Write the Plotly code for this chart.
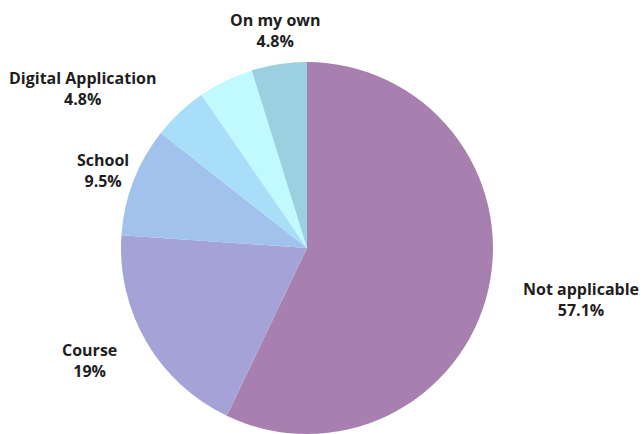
import plotly.graph_objects as go

# Share of respondents by where they learned
categories = ["Not applicable", "Course", "School", "Digital Application", "Other", "On my own"]
shares = [57.1, 19.0, 9.5, 4.8, 4.8, 4.8]
show_label = [True, True, True, True, False, True]

colors = ["#A780B0", "#A4A2D6", "#A0C2EC", "#A8DEF8", "#C0FAFF", "#9AD0E0"]

W, H = 643, 434

# Label anchor points (pixel centres) for each category
label_px = {
    "Not applicable": (581, 299),
    "Course": (89, 360),
    "School": (103, 170),
    "Digital Application": (83, 88),
    "On my own": (275, 31),
}


def fmt_pct(v):
    s = f"{v:.1f}"
    if s.endswith(".0"):
        s = s[:-2]
    return s + "%"


fig = go.Figure(
    go.Pie(
        labels=categories,
        values=shares,
        sort=False,
        direction="clockwise",
        rotation=0,
        marker=dict(colors=colors, line=dict(width=0)),
        textinfo="none",
        hoverinfo="label+percent",
        domain=dict(x=[121 / W, 493 / W], y=[0, 1 - 62 / H]),
        showlegend=False,
    )
)

annotations = []
for name, val, show in zip(categories, shares, show_label):
    if not show:
        continue
    px, py = label_px[name]
    annotations.append(
        dict(
            x=px / W,
            y=1 - py / H,
            xref="paper",
            yref="paper",
            xanchor="center",
            yanchor="middle",
            showarrow=False,
            align="center",
            text=f"<b>{name}</b><br><b>{fmt_pct(val)}</b>",
            font=dict(family="Open Sans", size=16, color="#1E1E1E"),
        )
    )

fig.update_layout(
    width=W,
    height=H,
    margin=dict(l=0, r=0, t=0, b=0),
    paper_bgcolor="white",
    plot_bgcolor="white",
    annotations=annotations,
)

fig.write_html("out.html")
